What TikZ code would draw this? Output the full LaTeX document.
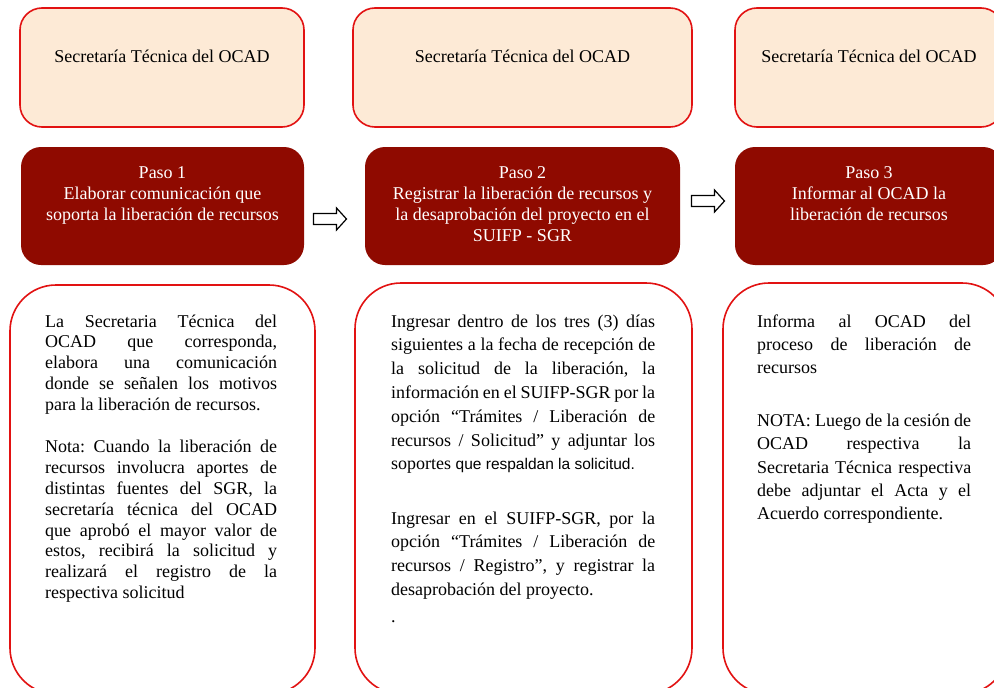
\documentclass[tikz,border=0pt]{standalone}
\usepackage{fontspec}
\setmainfont{Liberation Serif}
\newfontfamily\arialf{Liberation Sans}
\definecolor{peach}{RGB}{253,234,214}
\definecolor{bred}{RGB}{226,18,18}
\definecolor{dred}{RGB}{143,10,0}
\newcommand\jl[2]{\makebox[#1][s]{#2}}
\frenchspacing
\begin{document}
\begin{tikzpicture}[x=1pt,y=-1pt,
  topbox/.style={draw=bred, line width=1.6pt, fill=peach, rounded corners=22pt, inner sep=0pt},
  stepbox/.style={fill=dred, draw=none, rounded corners=20pt, inner sep=0pt},
  notebox/.style={draw=bred, line width=1.6pt, fill=white, rounded corners=46pt, inner sep=0pt},
  toplbl/.style={inner sep=0pt, anchor=base, font=\fontsize{18}{21}\selectfont},
  steplbl/.style={inner sep=0pt, anchor=base, align=center, text=white, font=\fontsize{18}{21.2}\selectfont},
  notelbl/.style={inner sep=0pt, anchor=base west, align=left},
  blockarrow/.style={draw=black, line width=1.2pt, fill=white, line join=miter}
]
\useasboundingbox (0,0) rectangle (994,688);
\clip (0,0) rectangle (994,688);
\fill[white] (0,0) rectangle (994,688);

% top boxes
\node[topbox, minimum width=284pt, minimum height=119pt] (t1) at (162,67.5) {};
\node[topbox, minimum width=339pt, minimum height=119pt] (t2) at (522.5,67.5) {};
\node[topbox, minimum width=268pt, minimum height=119pt] (t3) at (869,67.5) {};
\node[toplbl] (tl1) at (162,62) {Secretaría Técnica del OCAD};
\node[toplbl] (tl2) at (522.5,62) {Secretaría Técnica del OCAD};
\node[toplbl] (tl3) at (869,62) {Secretaría Técnica del OCAD};

% step boxes
\node[stepbox, minimum width=283pt, minimum height=118pt] (s1) at (162.5,206) {};
\node[stepbox, minimum width=315pt, minimum height=118pt] (s2) at (522.5,206) {};
\node[stepbox, minimum width=268pt, minimum height=118pt] (s3) at (869,206) {};
% base anchor = baseline of last line
\node[steplbl] (sl1) at (162.5,220.4) {Paso 1\\Elaborar comunicación que\\soporta la liberación de recursos};
\node[steplbl] (sl2) at (522.5,241.6) {Paso 2\\Registrar la liberación de recursos y\\la desaprobación del proyecto en el\\SUIFP - SGR};
\node[steplbl] (sl3) at (869,220.4) {Paso 3\\Informar al OCAD la\\liberación de recursos};

% arrows
\coordinate (a1) at (330,219);
\coordinate (a2) at (708,201);
\foreach \a in {a1,a2}{
  \draw[blockarrow] (\a) ++(-16.5,-5.5) -- ++(23,0) -- ++(0,-5.5) -- ++(10,11) -- ++(-10,11) -- ++(0,-5.5) -- ++(-23,0) -- cycle;
}

% note boxes
\node[notebox, minimum width=305pt, minimum height=409pt] (n1) at (162.5,489.5) {};
\node[notebox, minimum width=337pt, minimum height=411pt] (n2) at (523.5,488.5) {};
\node[notebox, minimum width=285pt, minimum height=411pt] (n3) at (865.5,488.5) {};

\node[notelbl, font=\fontsize{18}{20.9}\selectfont] (nl1) at (45,598.7) {%
\jl{232pt}{La Secretaria Técnica del}\\
\jl{232pt}{OCAD que corresponda,}\\
\jl{232pt}{elabora una comunicación}\\
\jl{232pt}{donde se señalen los motivos}\\
para la liberación de recursos.\\[20.9pt]
\jl{232pt}{Nota: Cuando la liberación de}\\
\jl{232pt}{recursos involucra aportes de}\\
\jl{232pt}{distintas fuentes del SGR, la}\\
\jl{232pt}{secretaría técnica del OCAD}\\
\jl{232pt}{que aprobó el mayor valor de}\\
\jl{232pt}{estos, recibirá la solicitud y}\\
\jl{232pt}{realizará el registro de la}\\
respectiva solicitud};

\node[notelbl, font=\fontsize{18}{23.8}\selectfont] (nl2) at (391,622.3) {%
\jl{264pt}{Ingresar dentro de los tres (3) días}\\
\jl{264pt}{siguientes a la fecha de recepción de}\\
\jl{264pt}{la solicitud de la liberación, la}\\
\jl{264pt}{información en el SUIFP-SGR por la}\\
\jl{264pt}{opción “Trámites / Liberación de}\\
\jl{264pt}{recursos / Solicitud” y adjuntar los}\\
soportes {\arialf\fontsize{15.5}{23.8}\selectfont que respaldan la solicitud.}\\[30.5pt]
\jl{264pt}{Ingresar en el SUIFP-SGR, por la}\\
\jl{264pt}{opción “Trámites / Liberación de}\\
\jl{264pt}{recursos / Registro”, y registrar la}\\
desaprobación del proyecto.\\[3pt]
.};

\node[notelbl, font=\fontsize{18}{23.4}\selectfont] (nl3) at (757,519.8) {%
\jl{214pt}{Informa al OCAD del}\\
\jl{214pt}{proceso de liberación de}\\
recursos\\[29pt]
\jl{214pt}{NOTA: Luego de la cesión de}\\
\jl{214pt}{OCAD respectiva la}\\
\jl{214pt}{Secretaria Técnica respectiva}\\
\jl{214pt}{debe adjuntar el Acta y el}\\
Acuerdo correspondiente.};
\end{tikzpicture}
\end{document}
